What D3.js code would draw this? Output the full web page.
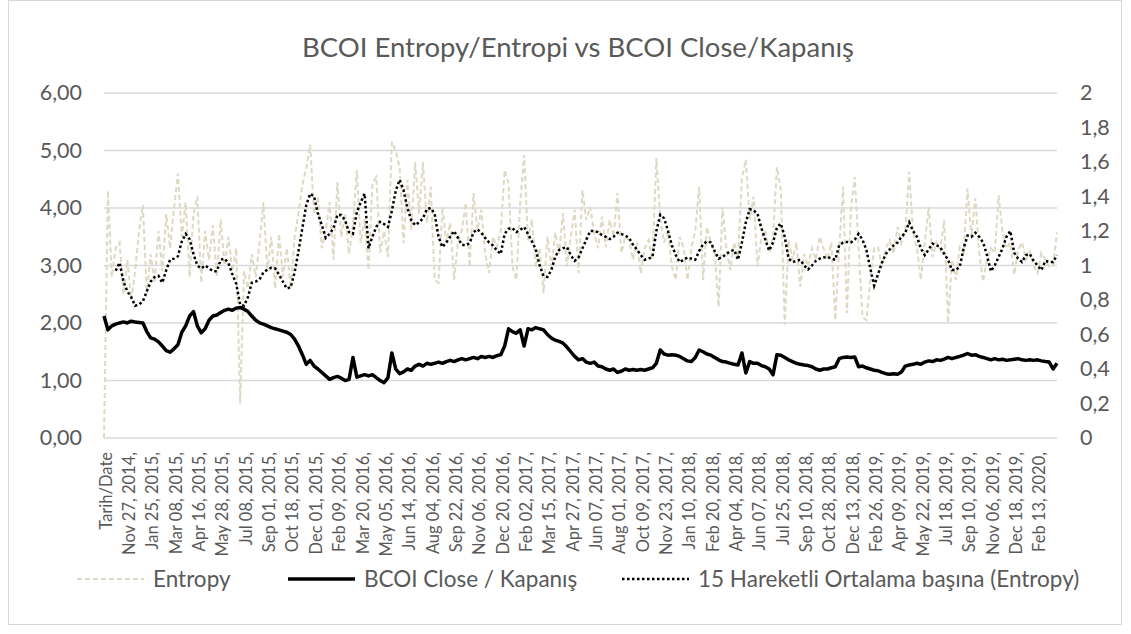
<!DOCTYPE html>
<html><head><meta charset="utf-8">
<script src="https://cdn.jsdelivr.net/npm/d3@7"></script>
<style>
html,body{margin:0;padding:0;background:#fff;}
svg{display:block;font-family:Lato,'Open Sans',sans-serif;}
</style></head><body>
<svg id="chart" width="1131" height="634"></svg>
<script>
const chartTitle = "BCOI Entropy/Entropi vs BCOI Close/Kapanış";
const dateLabels = ["Tarih/Date","Nov 27, 2014,","Jan 25, 2015,","Mar 08, 2015,","Apr 16, 2015,","May 28, 2015,","Jul 08, 2015,","Sep 01, 2015,","Oct 18, 2015,","Dec 01, 2015,","Feb 09, 2016,","Mar 20, 2016,","May 05, 2016,","Jun 14, 2016,","Aug 04, 2016,","Sep 22, 2016,","Nov 06, 2016,","Dec 20, 2016,","Feb 02, 2017,","Mar 15, 2017,","Apr 27, 2017,","Jun 07, 2017,","Aug 01, 2017,","Oct 09, 2017,","Nov 23, 2017,","Jan 10, 2018,","Feb 20, 2018,","Apr 04, 2018,","Jun 07, 2018,","Jul 25, 2018,","Sep 10, 2018,","Oct 28, 2018,","Dec 13, 2018,","Feb 26, 2019,","Apr 09, 2019,","May 22, 2019,","Jul 18, 2019,","Sep 10, 2019,","Nov 06, 2019,","Dec 18, 2019,","Feb 13, 2020,"];
const pointsPerLabel = 6;
const seriesNames = ["Entropy","BCOI Close / Kapanış","15 Hareketli Ortalama başına (Entropy)"];
const leftTicks = [0,1,2,3,4,5,6];
const rightTicks = [0,0.2,0.4,0.6,0.8,1,1.2,1.4,1.6,1.8,2];

const entropy = [
0,4.3,2.8,3.3,3.4,2.5, 3.1,2.4,2.9,3.6,4.05,2.5, 3.2,2.7,3.6,2.9,3.9,3.3, 4.0,4.6,3.5,4.1,2.8,3.9,
4.2,2.7,3.6,3.1,3.7,2.8, 3.8,3.0,3.5,2.9,3.3,0.6, 2.9,2.6,3.2,2.8,3.4,4.1, 2.9,3.5,2.6,3.55,2.8,3.3,
2.6,3.5,3.9,4.4,4.7,5.1, 3.9,4.2,3.3,3.6,4.1,3.1, 4.45,3.5,3.9,3.2,3.7,4.66, 3.4,3.8,2.92,4.43,4.54,3.22,
3.6,3.15,5.15,5.0,4.71,3.39, 4.49,3.62,4.8,3.9,4.8,3.74, 4.37,2.75,2.7,4.02,3.4,3.74, 2.75,3.4,3.62,4.09,2.98,4.26,
3.62,3.97,3.2,2.87,3.5,3.32, 3.6,4.66,4.43,2.98,2.75,4.09, 4.92,3.44,3.8,2.98,3.3,2.52, 3.5,2.98,3.57,3.2,3.91,2.98,
3.5,3.97,2.87,4.31,3.79,4.02, 3.57,3.3,3.85,3.32,3.79,3.5, 4.26,3.22,3.5,3.44,3.1,3.4, 2.87,3.3,3.44,3.1,4.87,3.79,
3.4,3.6,2.98,2.75,3.5,3.32, 2.75,3.3,3.6,4.37,2.75,3.67, 3.4,3.22,2.28,4.02,3.3,2.92, 3.4,3.15,4.52,4.84,3.8,4.2,
2.98,3.5,3.62,3.22,3.5,4.71, 4.31,1.97,3.44,3.1,3.4,2.63, 3.2,2.98,3.3,3.1,3.5,3.3, 3.1,3.4,2.05,3.3,4.37,2.17,
3.97,4.54,3.3,2.1,2.05,2.75, 3.3,3.32,2.98,3.3,3.44,3.2, 3.67,3.39,3.6,4.63,3.57,3.3, 2.75,3.39,4.02,3.15,3.4,3.27,
3.79,2.0,3.1,2.75,3.32,3.22, 4.34,3.5,4.17,3.22,2.72,3.1, 3.3,3.22,4.22,3.57,3.3,3.4, 2.84,3.27,3.4,3.1,3.24,3.0,
2.87,3.22,3.1,2.98,3.0,3.57];

const closePrice = [
.707,.627,.65,.66,.667,.673, .667,.677,.673,.67,.667,.617, .58,.573,.557,.533,.507,.497, .517,.54,.613,.65,.707,.733,
.65,.61,.633,.683,.707,.713, .727,.74,.747,.74,.753,.757, .747,.733,.707,.683,.667,.66, .65,.64,.633,.627,.62,.613,
.6,.573,.533,.483,.427,.45, .417,.4,.38,.36,.34,.35, .357,.347,.333,.34,.467,.353, .36,.367,.36,.367,.35,.333,
.32,.35,.493,.4,.373,.383, .4,.393,.417,.427,.417,.433, .427,.433,.44,.433,.443,.45, .443,.453,.46,.453,.46,.467,
.46,.473,.467,.473,.467,.477, .483,.533,.633,.617,.607,.627, .533,.633,.627,.64,.633,.627, .6,.58,.567,.56,.55,.527,
.5,.473,.453,.46,.44,.433, .44,.417,.413,.4,.393,.4, .38,.387,.4,.393,.397,.393, .397,.393,.4,.407,.433,.51,
.487,.48,.483,.48,.473,.46, .447,.443,.467,.51,.5,.487, .48,.467,.453,.443,.44,.433, .427,.423,.493,.377,.443,.433,
.433,.42,.413,.4,.367,.483, .48,.467,.453,.443,.433,.427, .423,.42,.413,.4,.393,.4, .4,.407,.413,.46,.467,.47,
.467,.47,.413,.417,.407,.4, .393,.39,.38,.373,.37,.373, .37,.383,.417,.423,.427,.433, .427,.44,.447,.443,.453,.45,
.457,.467,.46,.467,.473,.48, .49,.48,.483,.473,.467,.46, .453,.46,.453,.457,.45,.453, .457,.46,.453,.45,.453,.45,
.453,.447,.443,.44,.4,.433];

const movingAvg = [
null,null,null,2.91,3.05,2.72, 2.55,2.45,2.3,2.32,2.38,2.55, 2.72,2.8,2.82,2.7,2.92,3.1, 3.12,3.16,3.42,3.55,3.46,3.2,
3.0,2.95,3.0,2.95,2.9,2.9, 3.1,3.12,3.04,2.85,2.68,2.32, 2.3,2.45,2.7,2.72,2.76,2.88, 2.93,2.96,2.95,2.84,2.72,2.6,
2.62,2.88,3.25,3.65,4.05,4.25, 4.2,3.9,3.7,3.48,3.55,3.65, 3.88,3.88,3.78,3.58,3.55,3.93, 4.1,4.25,3.3,3.5,3.67,3.76,
3.72,3.67,3.95,4.3,4.49,4.31, 4.0,3.79,3.7,3.75,3.82,3.98, 4.0,3.9,3.5,3.32,3.4,3.5, 3.6,3.48,3.36,3.35,3.39,3.58,
3.63,3.57,3.48,3.4,3.35,3.26, 3.2,3.55,3.64,3.65,3.58,3.62, 3.67,3.55,3.42,3.28,3.0,2.82, 2.8,2.92,3.15,3.27,3.3,3.32,
3.18,3.08,3.14,3.3,3.45,3.6, 3.6,3.58,3.53,3.5,3.46,3.5, 3.57,3.55,3.52,3.48,3.36,3.28, 3.18,3.1,3.12,3.15,3.6,3.88,
3.82,3.6,3.35,3.18,3.06,3.1, 3.14,3.12,3.1,3.25,3.37,3.42, 3.4,3.25,3.12,3.15,3.2,3.25, 3.27,3.1,3.4,3.75,3.98,3.96,
3.9,3.65,3.45,3.26,3.4,3.66, 3.73,3.5,3.12,3.06,3.08,3.1, 3.0,2.93,3.0,3.08,3.12,3.14, 3.15,3.12,3.1,3.35,3.4,3.41,
3.4,3.45,3.55,3.45,3.27,2.95, 2.65,2.85,3.05,3.2,3.28,3.35, 3.4,3.5,3.57,3.75,3.6,3.5, 3.3,3.18,3.28,3.38,3.35,3.32,
3.2,3.1,2.92,2.92,2.98,3.3, 3.52,3.5,3.57,3.5,3.4,3.18, 2.9,3.0,3.15,3.3,3.5,3.6, 3.22,3.12,3.06,3.18,3.2,3.08,
3.0,2.92,3.08,3.06,3.06,3.18];

const plot = {left: 104, right: 1057, top: 93, bottom: 438};
const textColor = "#595959", gridColor = "#d9d9d9", tan = "#ddd9c3";

const svg = d3.select("#chart");
svg.append("rect").attr("x",8.5).attr("y",0.5).attr("width",1113).attr("height",624)
  .attr("fill","#fff").attr("stroke","#d9d9d9").attr("stroke-width",1);

const x = d3.scaleLinear().domain([0, entropy.length - 1]).range([plot.left, plot.right]);
const yL = d3.scaleLinear().domain([0, 6]).range([plot.bottom, plot.top]);
const yR = d3.scaleLinear().domain([0, 2]).range([plot.bottom, plot.top]);

svg.append("g").selectAll("line").data(leftTicks).join("line")
  .attr("x1", plot.left).attr("x2", plot.right)
  .attr("y1", d => yL(d)).attr("y2", d => yL(d))
  .attr("stroke", gridColor).attr("stroke-width", 1.3);

const comma = s => s.replace(".", ",");

const gL = svg.append("g").attr("transform", `translate(${plot.left},0)`)
  .call(d3.axisLeft(yL).tickValues(leftTicks).tickSize(0).tickPadding(22)
    .tickFormat(d => comma(d3.format(".2f")(d))));
const gR = svg.append("g").attr("transform", `translate(${plot.right},0)`)
  .call(d3.axisRight(yR).tickValues(rightTicks).tickSize(0).tickPadding(23)
    .tickFormat(d => comma(String(d))));
[gL, gR].forEach(g => {
  g.select(".domain").remove();
  g.selectAll("text").attr("fill", textColor).style("font-size", "21.5px").style("font-family","Lato");
});

const gX = svg.append("g").attr("transform", `translate(0,${plot.bottom})`)
  .call(d3.axisBottom(x).tickValues(dateLabels.map((d, i) => i * pointsPerLabel))
    .tickSize(0).tickFormat((d, i) => dateLabels[i]));
gX.select(".domain").remove();
gX.selectAll("text")
  .attr("transform", "rotate(-90)")
  .attr("x", -14).attr("y", 1.5).attr("dy", "0.35em")
  .style("text-anchor", "end").style("font-size", "16.5px").style("font-family","Lato")
  .attr("fill", textColor);

const lineL = d3.line().defined(d => d != null).x((d, i) => x(i)).y(d => yL(d));
const lineR = d3.line().defined(d => d != null).x((d, i) => x(i)).y(d => yR(d));

const styles = [
  {stroke: tan, width: 2, dash: "5,3"},
  {stroke: "#000", width: 3.5, dash: null},
  {stroke: "#000", width: 2.5, dash: "2.5,2.5"}
];

svg.append("path").datum(entropy).attr("d", lineL).attr("fill","none")
  .attr("stroke", styles[0].stroke).attr("stroke-width", styles[0].width).attr("stroke-dasharray", styles[0].dash);
svg.append("path").datum(closePrice).attr("d", lineR).attr("fill","none")
  .attr("stroke", styles[1].stroke).attr("stroke-width", styles[1].width).attr("stroke-linejoin","round");
svg.append("path").datum(movingAvg).attr("d", lineL).attr("fill","none")
  .attr("stroke", styles[2].stroke).attr("stroke-width", styles[2].width).attr("stroke-dasharray", styles[2].dash);

svg.append("text").attr("x", 578).attr("y", 57).attr("text-anchor","middle")
  .attr("fill", textColor).style("font-size","27.5px").text(chartTitle);

const legendX = [77, 288, 622];
const legendY = 579, sampleLen = 67;
const lg = svg.append("g");
seriesNames.forEach((name, k) => {
  const s = styles[k];
  lg.append("line").attr("x1", legendX[k]).attr("x2", legendX[k] + sampleLen)
    .attr("y1", legendY).attr("y2", legendY)
    .attr("stroke", s.stroke).attr("stroke-width", s.width).attr("stroke-dasharray", s.dash);
  lg.append("text").attr("x", legendX[k] + sampleLen + 9).attr("y", legendY).attr("dy","0.35em")
    .attr("fill", textColor).style("font-size","22.5px").text(name);
});
</script>
</body></html>
